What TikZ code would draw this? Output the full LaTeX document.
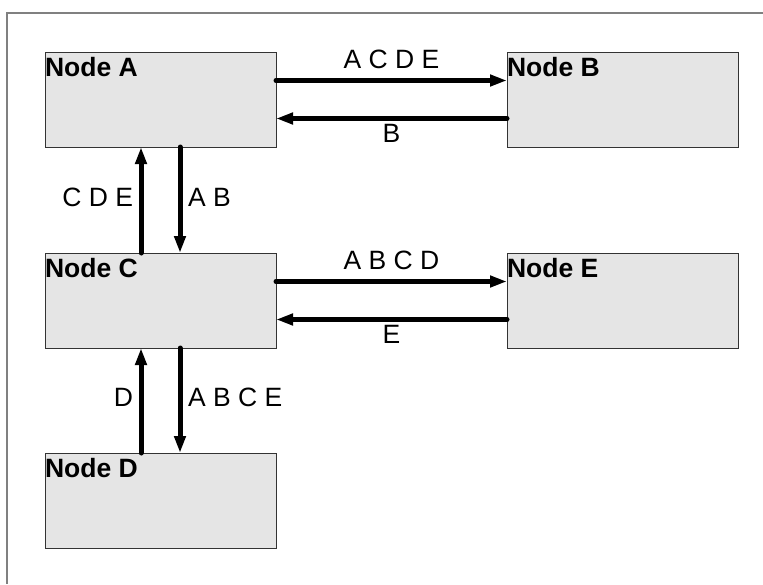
\documentclass[tikz,border=0pt]{standalone}
\usepackage{fontspec}
\setmainfont{Liberation Sans}
\usetikzlibrary{arrows.meta, positioning}

\begin{document}
\begin{tikzpicture}[every node/.style={outer sep=0pt,inner sep=0pt}, font=\fontsize{26.5}{30}\selectfont]

\tikzstyle{nodebox}=[draw=black!80, fill=black!10, line width=1pt, minimum width=231pt, minimum height=95pt]
\tikzstyle{title}=[font=\fontsize{26.5}{30}\selectfont\bfseries]
\tikzstyle{flow}=[-{Triangle[length=17pt,width=11pt]}, line width=5pt, line cap=round]

\useasboundingbox (0,0) rectangle (763pt,-584pt);
\draw[gray, line width=1.2pt] (763pt,-13pt) -- (7pt,-13pt) -- (7pt,-584pt);

\node (A) [nodebox, anchor=north west] at (45pt,-52pt) {};
\node (B) [nodebox, right=231pt of A] {};
\node (C) [nodebox, below=106pt of A] {};
\node (E) [nodebox, right=231pt of C] {};
\node (D) [nodebox, below=105pt of C] {};

\node (A title) [title, below right=5pt and 0pt of A.north west] {Node A};
\node (B title) [title, below right=5pt and 0pt of B.north west] {Node B};
\node (C title) [title, below right=5pt and 0pt of C.north west] {Node C};
\node (E title) [title, below right=5pt and 0pt of E.north west] {Node E};
\node (D title) [title, below right=5pt and 0pt of D.north west] {Node D};

\draw[flow] ([yshift=19pt]A.east) -- ([yshift=19pt]B.west) node[midway, above=12pt]{A C D E};
\draw[flow] ([yshift=-19pt]B.west) -- ([yshift=-19pt]A.east) node[midway, below=6pt]{B};
\draw[flow] ([yshift=19pt]C.east) -- ([yshift=19pt]E.west) node[midway, above=12pt]{A B C D};
\draw[flow] ([yshift=-19pt]E.west) -- ([yshift=-19pt]C.east) node[midway, below=6pt]{E};

\draw[flow] ([xshift=-19.5pt]C.north) -- ([xshift=-19.5pt]A.south) node[midway, left=8pt, yshift=3pt]{C D E};
\draw[flow] ([xshift=19.5pt]A.south) -- ([xshift=19.5pt]C.north) node[midway, right=8pt, yshift=3pt]{A B};
\draw[flow] ([xshift=-19.5pt]D.north) -- ([xshift=-19.5pt]C.south) node[midway, left=8pt, yshift=3pt]{D};
\draw[flow] ([xshift=19.5pt]C.south) -- ([xshift=19.5pt]D.north) node[midway, right=8pt, yshift=3pt]{A B C E};

\end{tikzpicture}
\end{document}
